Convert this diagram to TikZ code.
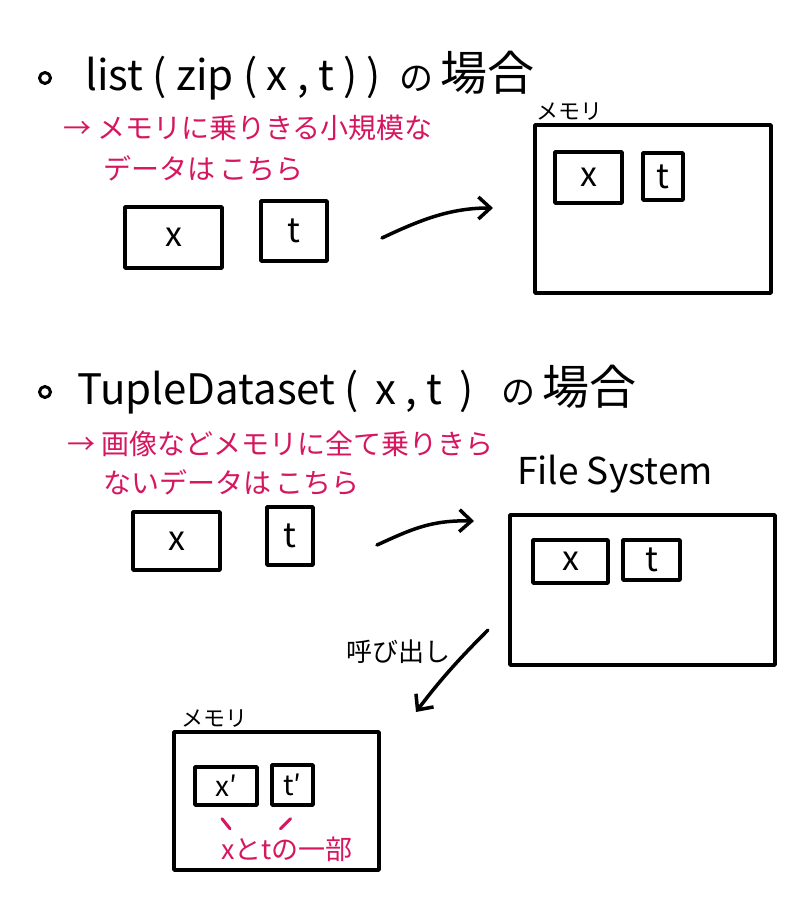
\documentclass[tikz,border=0pt]{standalone}
\usepackage{fontspec}
\setmainfont{Noto Sans CJK JP}
\usetikzlibrary{arrows.meta}
\definecolor{memopink}{RGB}{214,22,95}
\newcommand{\bashoai}{{\fontsize{34}{36}\selectfont の}\,{\fontsize{47}{48}\selectfont 場合}}

\begin{document}
\begin{tikzpicture}[x=1pt,y=-1pt,line width=3.5pt,line cap=round,line join=round,
    databox/.style={draw,inner sep=0pt,font=\fontsize{34}{34}\selectfont},
    areabox/.style={draw,inner sep=0pt},
    title/.style={font=\fontsize{42}{44}\selectfont,anchor=west},
    note/.style={memopink,font=\fontsize{28}{30}\selectfont,anchor=west},
    small/.style={font=\fontsize{22}{24}\selectfont},
    flow/.style={-{Straight Barb[length=12pt,width=22pt]}}]
  \useasboundingbox (0,0) rectangle (806,912);

  % list(zip(x,t))
  \node[draw,circle,minimum size=11pt,inner sep=0pt,line width=3pt] (dot1) at (45,78) {};
  \node[title] (head1) at (80,76) {list ( zip ( x , t ) )\ \ \bashoai};
  \node[note] (note1a) at (58,128) {→ メモリに乗りきる小規模な};
  \node[note] (note1b) at (98,168) {データは\,こちら};
  \node[databox,minimum width=97pt,minimum height=61pt] (x1) at (173.5,237.5) {x};
  \node[databox,minimum width=66pt,minimum height=60pt] (t1) at (294,231) {t};
  \node[areabox,minimum width=236pt,minimum height=168pt] (mem1) at (653,209) {};
  \node[small,anchor=south west,inner sep=1pt] (mem1lbl) at (mem1.north west) {メモリ};
  \node[databox,minimum width=67pt,minimum height=51pt] (x1m) at (588.5,177.5) {x};
  \node[databox,minimum width=40pt,minimum height=47pt] (t1m) at (663,176.5) {t};
  \coordinate (a1s) at (382,238);
  \coordinate (a1e) at (493,208);
  \draw[flow] (a1s) .. controls (420,220) and (450,208) .. (a1e);

  % TupleDataset(x,t)
  \node[draw,circle,minimum size=11pt,inner sep=0pt,line width=3pt] (dot2) at (45,392) {};
  \node[title] (head2) at (72,390) {TupleDataset (\ \,x , t\ \,)\ \ \ \bashoai};
  \node[note] (note2a) at (62,444) {→ 画像などメモリに全て乗りきら};
  \node[note] (note2b) at (98,482) {ないデータは\,こちら};
  \node[font=\fontsize{37}{40}\selectfont,anchor=west] (fslbl) at (512,474) {File System};
  \node[databox,minimum width=87pt,minimum height=58pt] (x2) at (176.5,541) {x};
  \node[databox,minimum width=46pt,minimum height=58pt] (t2) at (290,536) {t};
  \node[areabox,minimum width=265pt,minimum height=150pt] (fs) at (642.5,590) {};
  \node[databox,minimum width=75pt,minimum height=43pt] (x2f) at (570.5,561.5) {x};
  \node[databox,minimum width=57pt,minimum height=40pt] (t2f) at (651.5,560) {t};
  \coordinate (a2s) at (377,545);
  \coordinate (a2e) at (474,521);
  \draw[flow] (a2s) .. controls (410,530) and (430,520) .. (a2e);

  % load into memory
  \coordinate (a3s) at (488,630);
  \coordinate (a3e) at (416,712);
  \draw[flow] (a3s) .. controls (460,658) and (440,680) .. (a3e);
  \node[font=\fontsize{26}{28}\selectfont] (calllbl) at (398,652) {呼び出し};
  \node[areabox,minimum width=205pt,minimum height=138pt] (mem2) at (276.5,801) {};
  \node[small,anchor=south west,inner sep=1pt] (mem2lbl) at ([xshift=6pt]mem2.north west) {メモリ};
  \node[databox,minimum width=62pt,minimum height=38pt,font=\fontsize{28}{28}\selectfont] (x2m) at (226,786) {x′};
  \node[databox,minimum width=41pt,minimum height=40pt,font=\fontsize{28}{28}\selectfont] (t2m) at (292.5,785) {t′};
  \node[memopink,font=\fontsize{27}{28}\selectfont] (partlbl) at (287,849) {xとtの一部};
  \draw[memopink,line width=3pt] ([xshift=-4pt,yshift=-12pt]x2m.south) -- ([xshift=4pt,yshift=-22pt]x2m.south);
  \draw[memopink,line width=3pt] ([xshift=-2pt,yshift=-12pt]t2m.south) -- ([xshift=-12pt,yshift=-22pt]t2m.south);
\end{tikzpicture}
\end{document}
